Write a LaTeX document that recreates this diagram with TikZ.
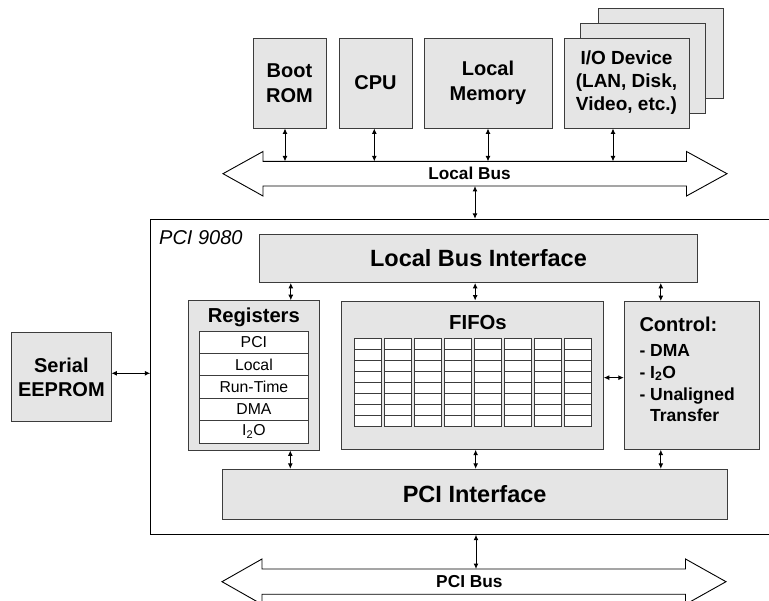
\documentclass[tikz,border=0pt]{standalone}
\usepackage{fontspec}
\setmainfont{Liberation Sans}
\usetikzlibrary{arrows.meta,positioning}
\definecolor{boxfill}{RGB}{229,229,229}
\definecolor{edgegray}{RGB}{60,60,60}
\newcommand{\ItO}{I\textsubscript{2}O}
\newcommand{\fsz}[2]{\fontsize{#1}{#2}\selectfont}

\begin{document}
\begin{tikzpicture}[x=1pt,y=-1pt,
    block/.style={draw=edgegray,fill=boxfill,line width=0.9pt,inner sep=0pt,align=center,font=\bfseries\fsz{20}{25}},
    cell/.style={draw=edgegray,fill=white,line width=0.8pt,minimum width=27.7pt,minimum height=11pt,inner sep=0pt},
    regrow/.style={draw=edgegray,fill=white,line width=0.8pt,minimum width=109.2pt,minimum height=22.4pt,inner sep=0pt,font=\fsz{15.8}{18}},
    link/.style={{Latex[length=5.5pt,width=5pt]}-{Latex[length=5.5pt,width=5pt]},line width=1pt},
    bus/.style={draw=black,fill=white,line width=0.9pt}]
  \useasboundingbox (0,0) rectangle (769,601);

  % devices on the local side
  \node[block,minimum width=73pt,minimum height=90pt] (boot) at (289.5,83) {Boot\\ROM};
  \node[block,minimum width=73pt,minimum height=90pt] (cpu) at (375.5,83) {CPU};
  \node[block,minimum width=128pt,minimum height=90pt] (mem) at (488,83) {Local\\Memory};
  \node[block,minimum width=125pt,minimum height=90pt] (io3) at (660.5,53) {};
  \node[block,minimum width=125pt,minimum height=90pt] (io2) at (642.5,68.5) {};
  \node[block,minimum width=125pt,minimum height=90pt,font=\bfseries\fsz{19}{23}] (io) at (626.5,83) {I/O Device\\(LAN, Disk,\\Video, etc.)};

  % local bus
  \draw[bus] (223,173.7) -- (263,151.5) -- (263,161.4) -- (686.5,161.4) -- (686.5,151.5) -- (727,173.7)
    -- (686.5,196) -- (686.5,186) -- (263,186) -- (263,196) -- cycle;
  \coordinate (lbtop) at (475,161.4);
  \coordinate (lbbot) at (475,186);
  \node[font=\bfseries\fsz{17.2}{20}] (lbus) at (469.5,173.7) {Local Bus};
  \draw[link] ([xshift=-4.5pt]boot.south) -- ([xshift=-4.5pt]boot.south |- lbtop);
  \draw[link] ([xshift=-1.2pt]cpu.south) -- ([xshift=-1.2pt]cpu.south |- lbtop);
  \draw[link] (mem.south) -- (mem.south |- lbtop);
  \draw[link] ([xshift=-13.5pt]io.south) -- ([xshift=-13.5pt]io.south |- lbtop);

  % the chip
  \node[draw=black,line width=0.9pt,minimum width=630pt,minimum height=315pt,inner sep=0pt] (chip) at (465.7,376.8) {};
  \node[anchor=west,font=\itshape\fsz{20}{24},inner sep=0pt] (chiplbl) at (159,238) {PCI 9080};
  \draw[link] (lbbot) -- (lbbot |- chip.north);

  \node[block,font=\bfseries\fsz{23.5}{28},minimum width=438.4pt,minimum height=48.5pt] (lbi) at (478.5,258.25) {Local Bus Interface};

  % registers
  \node[block,minimum width=131pt,minimum height=149.3pt] (regs) at (253.8,375.35) {};
  \node[anchor=base,font=\bfseries\fsz{20.2}{24},inner sep=0pt] (regtitle) at (253.8,322.2) {Registers};
  \foreach \t [count=\i] in {PCI,Local,Run-Time,DMA,\ItO}
    \node[regrow] (reg\i) at (253.9,{331+22.4*(\i-0.5)}) {\t};

  % fifos
  \node[block,minimum width=262.3pt,minimum height=148.3pt] (fifo) at (472.15,375.15) {};
  \node[anchor=base,font=\bfseries\fsz{20.3}{24},inner sep=0pt] (fifotitle) at (478,330) {FIFOs};
  \foreach \c in {0,...,7}
    \foreach \r in {0,...,7}
      \node[cell] (c\c-\r) at ({367.85+30*\c},{344+11.03*\r}) {};

  % control
  \node[block,minimum width=135pt,minimum height=147.8pt] (ctrl) at (691.8,375.4) {};
  \node[anchor=north west,align=left,font=\bfseries\fsz{17.5}{21.8},inner sep=0pt] (ctrltext) at (639.3,317)
    {{\fsz{20}{21.8}Control:}\\[3pt]- DMA\\- \ItO\\- Unaligned\\\hphantom{- }Transfer};

  \node[block,font=\bfseries\fsz{23.5}{28},minimum width=505.3pt,minimum height=50pt] (pcii) at (474.65,494.3) {PCI Interface};

  \draw[link] ([xshift=37pt]regs.north) -- ([xshift=37pt]regs.north |- lbi.south);
  \draw[link] ([xshift=3pt]fifo.north) -- ([xshift=3pt]fifo.north |- lbi.south);
  \draw[link] ([xshift=-31pt]ctrl.north) -- ([xshift=-31pt]ctrl.north |- lbi.south);
  \draw[link] ([xshift=36.5pt]regs.south) -- ([xshift=36.5pt]regs.south |- pcii.north);
  \draw[link] ([xshift=3.5pt]fifo.south) -- ([xshift=3.5pt]fifo.south |- pcii.north);
  \draw[link] ([xshift=-31pt]ctrl.south) -- ([xshift=-31pt]ctrl.south |- pcii.north);
  \draw[link] ([yshift=-2.5pt]fifo.east) -- ([yshift=-2.5pt]fifo.east -| ctrl.west);

  % serial eeprom
  \node[block,font=\bfseries\fsz{20}{23.6},minimum width=99.3pt,minimum height=89pt] (eeprom) at (61.35,377.2) {Serial\\EEPROM};
  \draw[link] ([yshift=3.9pt]eeprom.east) -- ([yshift=3.9pt]eeprom.east -| chip.west);

  % pci bus
  \draw[bus] (222,581.7) -- (262,559) -- (262,569) -- (685.5,569) -- (685.5,559) -- (726,581.7)
    -- (685.5,604.4) -- (685.5,594.2) -- (262,594.2) -- (262,604.4) -- cycle;
  \coordinate (pbtop) at (476,569);
  \node[font=\bfseries\fsz{17.3}{20}] (pbus) at (469.4,581.7) {PCI Bus};
  \draw[link] (pbtop |- chip.south) -- (pbtop);
\end{tikzpicture}
\end{document}
